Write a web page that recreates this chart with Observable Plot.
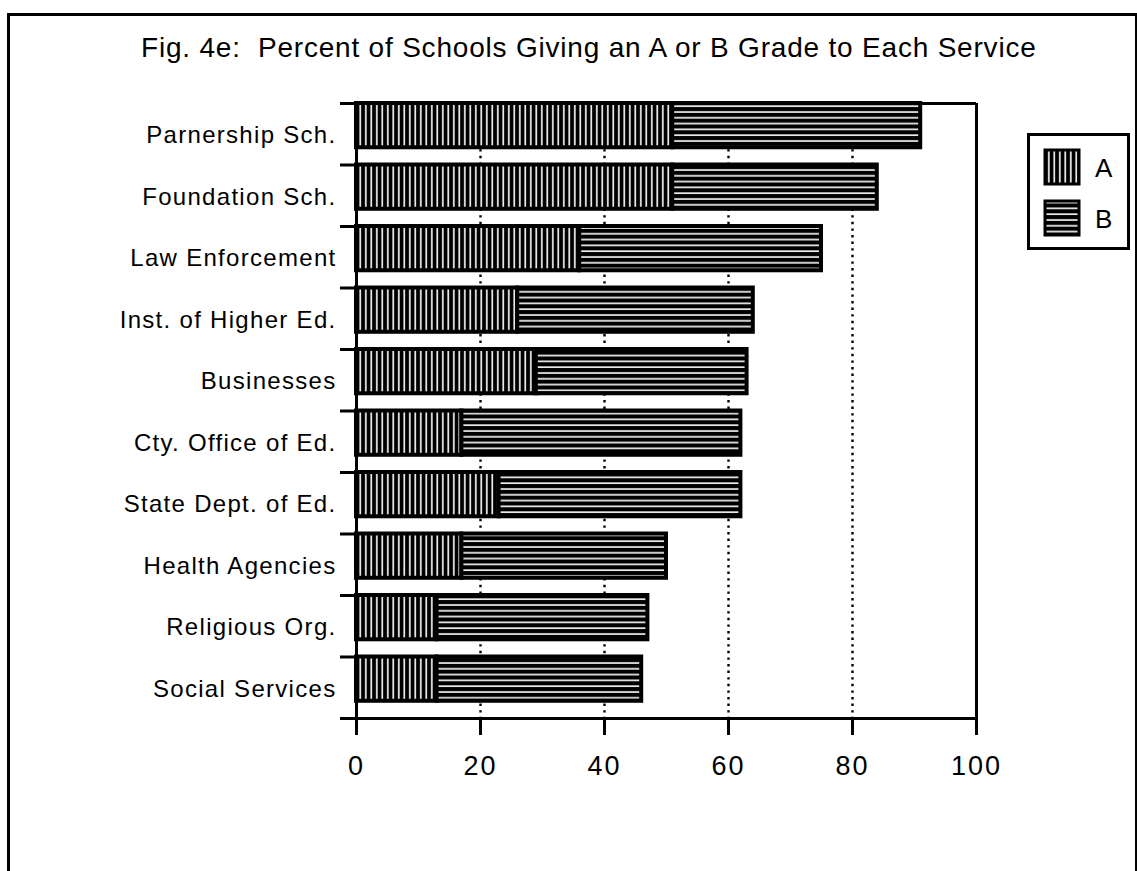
<!DOCTYPE html>
<html>
<head>
<meta charset="utf-8">
<script src="https://cdn.jsdelivr.net/npm/d3@7"></script>
<script src="https://cdn.jsdelivr.net/npm/@observablehq/plot@0.6"></script>
<style>
  html, body { margin: 0; padding: 0; background: #fff; }
  #page { position: relative; width: 1137px; height: 871px; overflow: hidden; font-family: "Liberation Sans", Arial, sans-serif; color: #000; }
  #frame { position: absolute; left: 7px; top: 13px; width: 1125px; height: 900px; border: 3px solid #000; }
  #title { position: absolute; left: 141px; top: 32px; font-size: 28px; letter-spacing: 0.8px; white-space: pre; }
  #chart { position: absolute; left: 0; top: 80px; }
  #legend { position: absolute; left: 1024px; top: 130px; }
  #chart svg { font-family: "Liberation Sans", Arial, sans-serif; overflow: visible; }
  g[aria-label="x-axis tick label"] text { letter-spacing: 2px; }
  g[aria-label="text"] text { letter-spacing: 1.3px; }
</style>
</head>
<body>
<div id="page">
  <div id="frame"></div>
  <div id="title">Fig. 4e:  Percent of Schools Giving an A or B Grade to Each Service</div>
  <div id="chart"></div>
  <div id="legend"></div>
</div>
<svg width="0" height="0" style="position:absolute">
  <defs>
    <!-- grade A: black ground with thin white vertical hatching -->
    <pattern id="hatchA" patternUnits="userSpaceOnUse" width="5.5" height="10">
      <rect width="5.5" height="10" fill="#000"></rect>
      <rect x="2" width="1.6" height="10" fill="#fff"></rect>
    </pattern>
    <!-- grade B: black ground with thin white horizontal hatching -->
    <pattern id="hatchB" patternUnits="userSpaceOnUse" width="10" height="5.8">
      <rect width="10" height="5.8" fill="#000"></rect>
      <rect y="2.2" width="10" height="1.6" fill="#fff"></rect>
    </pattern>
  </defs>
</svg>
<script>
// Services rated by schools, top to bottom
const services = [
  "Parnership Sch.", "Foundation Sch.", "Law Enforcement", "Inst. of Higher Ed.",
  "Businesses", "Cty. Office of Ed.", "State Dept. of Ed.", "Health Agencies",
  "Religious Org.", "Social Services"
];
// Percent of schools giving each grade
const gradeA = [51, 51, 36, 26, 29, 17, 23, 17, 13, 13];
const gradeB = [40, 33, 39, 38, 34, 45, 39, 33, 34, 33];
const grades = ["A", "B"];
const xTicks = [0, 20, 40, 60, 80, 100];
const gridTicks = [20, 40, 60, 80];

const rows = services.map((service, i) => ({service, i, a: gradeA[i], b: gradeB[i]}));
const barSpan = 0.72; // share of each row taken by its bar
const ink = {stroke: "#000", strokeWidth: 3};

const chart = Plot.plot({
  width: 1137,
  height: 791,
  marginTop: 23,
  marginBottom: 153,
  marginLeft: 356,
  marginRight: 161,
  x: {domain: [0, 100]},
  y: {domain: [0, services.length], reverse: true},
  marks: [
    Plot.ruleX(gridTicks, {stroke: "#000", strokeWidth: 2.4, strokeDasharray: "2.4 4.2"}),
    Plot.rect(rows, {x1: 0, x2: "a", y1: "i", y2: d => d.i + barSpan,
      fill: "url(#hatchA)", stroke: "#000", strokeWidth: 4}),
    Plot.rect(rows, {x1: "a", x2: d => d.a + d.b, y1: "i", y2: d => d.i + barSpan,
      fill: "url(#hatchB)", stroke: "#000", strokeWidth: 4}),
    // frame: top edge, right edge, y axis line, x axis line
    Plot.ruleY([0], {x1: 0, x2: 100, ...ink}),
    Plot.ruleX([100], {y1: 0, y2: services.length, ...ink}),
    Plot.ruleX([0], {y1: 0, y2: services.length, ...ink}),
    Plot.ruleY([services.length], {x1: 0, x2: 100, ...ink}),
    // row boundary ticks on the y axis
    Plot.axisY({ticks: d3.range(services.length + 1), tickSize: 16, tickFormat: () => "", strokeWidth: 3, label: null}),
    Plot.axisX({ticks: xTicks, tickSize: 17, tickPadding: 20, fontSize: 27, strokeWidth: 3, tickFormat: d => String(d), label: null}),
    Plot.text(rows, {x: 0, y: d => d.i + 0.52, text: "service", textAnchor: "end", dx: -20, fontSize: 24, fill: "#000"})
  ]
});
document.getElementById("chart").appendChild(chart);

// Legend: hatched swatch and grade letter
const legend = d3.select("#legend").append("svg").attr("width", 110).attr("height", 125);
legend.append("rect").attr("x", 4.5).attr("y", 4.5).attr("width", 100).attr("height", 114)
  .attr("fill", "#fff").attr("stroke", "#000").attr("stroke-width", 3);
grades.forEach((g, k) => {
  const y0 = 20 + k * 51;
  legend.append("rect").attr("x", 21).attr("y", y0).attr("width", 34).attr("height", 34)
    .attr("fill", k === 0 ? "url(#hatchA)" : "url(#hatchB)").attr("stroke", "#000").attr("stroke-width", 3);
  legend.append("text").attr("x", 71).attr("y", y0 + 27).attr("font-size", 26)
    .attr("font-family", "Liberation Sans, Arial, sans-serif").text(g);
});
</script>
</body>
</html>
